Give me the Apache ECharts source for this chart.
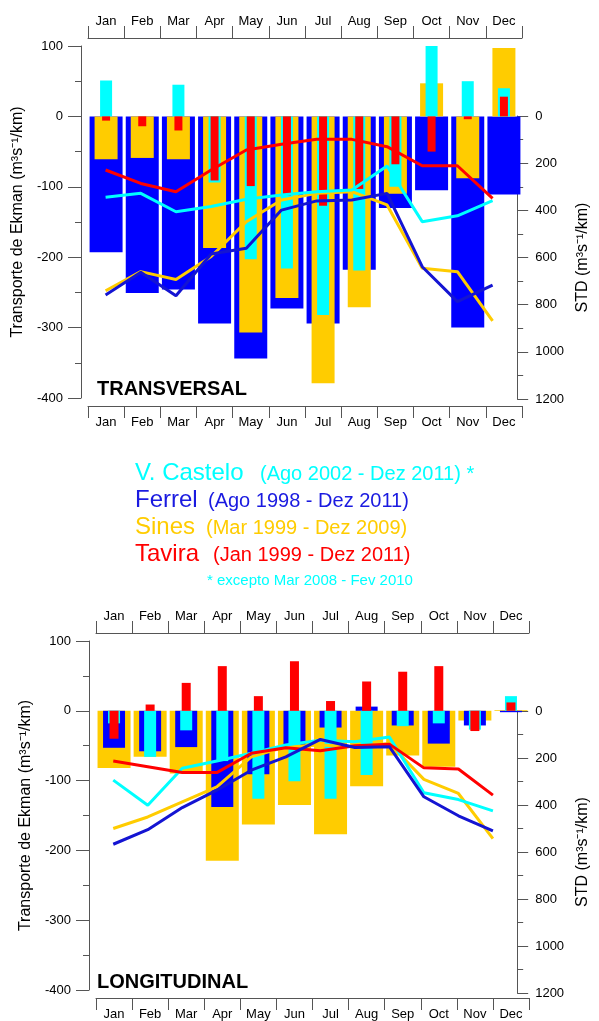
<!DOCTYPE html>
<html>
<head>
<meta charset="utf-8">
<script src="https://cdn.jsdelivr.net/npm/echarts@6/dist/echarts.min.js"></script>
<style>
html, body { margin: 0; padding: 0; background: #fff; }
#chart { width: 599px; height: 1021px; }
</style>
</head>
<body>
<div id="chart"></div>
<script>
const months = ['Jan', 'Feb', 'Mar', 'Apr', 'May', 'Jun', 'Jul', 'Aug', 'Sep', 'Oct', 'Nov', 'Dec']

// TRANSVERSAL - monthly mean transport (m3 s-1 / km)
const trFerrel = [-193, -251, -246, -294, -344, -273, -294, -218, -130, -105, -300, -111]
const trSines = [-61, -59, -61, -187, -307, -258, -379, -271, -110, 47, -88, 97]
const trCastelo = [51, 0, 45, -94, -203, -216, -282, -219, -100, 100, 50, 40]
const trTavira = [-6, -14, -20, -91, -99, -113, -127, -103, -68, -50, -4, 28]
// TRANSVERSAL - STD
const trStdFerrel = [759, 663, 762, 585, 561, 399, 360, 356, 328, 639, 787, 717]
const trStdSines = [741, 660, 693, 596, 448, 356, 328, 321, 377, 646, 660, 869]
const trStdCastelo = [345, 328, 406, 384, 353, 335, 321, 314, 212, 448, 423, 359]
const trStdTavira = [229, 286, 321, 229, 144, 120, 99, 99, 130, 211, 211, 349]

// LONGITUDINAL - monthly mean transport
const loFerrel = [-53, -58, -52, -138, -91, -50, -24, 6, -21, -47, -21, -2]
const loSines = [-82, -66, -90, -215, -163, -135, -177, -108, -64, -80, -14, 1]
const loCastelo = [-18, -66, -28, -72, -126, -101, -126, -92, -22, -18, -27, 21]
const loTavira = [-40, 9, 40, 64, 21, 71, 14, 42, 56, 64, -29, 12]
// LONGITUDINAL - STD
const loStdFerrel = [567, 505, 411, 337, 252, 195, 121, 155, 152, 365, 446, 510]
const loStdSines = [500, 451, 387, 323, 195, 152, 145, 152, 138, 291, 351, 543]
const loStdCastelo = [294, 401, 244, 213, 180, 145, 124, 131, 111, 348, 377, 425]
const loStdTavira = [213, 237, 262, 262, 180, 156, 169, 148, 141, 242, 247, 358]

const transportTicks = { min: -400, max: 100, interval: 100 }
const stdTicks = { min: 0, max: 1200, interval: 200 }

const FONT = '"Liberation Sans", Arial, sans-serif'
const BLUE = '#0000ff', YELLOW = '#ffcc00', CYAN = '#00ffff', RED = '#ff0000'
const BLUE_LINE = '#1414d2'
const AXIS = '#555'

const grids = [], xAxes = [], yAxes = [], series = []

// one panel = bar grid (left axis) + std grid (right axis, starts at the zero line)
function addPanel(geo, bars, lines) {
    const g0 = grids.length
    grids.push({ left: geo.left, right: geo.right, top: geo.top, height: geo.height })
    grids.push({ left: geo.left, right: geo.right, top: geo.stdTop, height: geo.stdHeight })

    const y0 = yAxes.length
    yAxes.push({
        type: 'value', gridIndex: g0, position: 'left', offset: 7,
        min: transportTicks.min, max: transportTicks.max, interval: transportTicks.interval,
        axisLine: { show: true, onZero: false, lineStyle: { color: AXIS } },
        axisTick: { show: true, length: 13, lineStyle: { color: AXIS } },
        minorTick: { show: true, splitNumber: 2, length: 6, lineStyle: { color: AXIS } },
        splitLine: { show: false },
        axisLabel: { color: '#000', fontSize: 13, fontFamily: FONT, margin: 18, formatter: v => String(v) },
        name: 'Transporte de Ekman (m³s⁻¹/km)', nameLocation: 'middle', nameGap: 52, nameRotate: 90,
        nameTextStyle: { color: '#000', fontSize: 16, fontFamily: FONT },
    })
    yAxes.push({
        type: 'value', gridIndex: g0 + 1, position: 'right', offset: 7, inverse: true,
        min: stdTicks.min, max: stdTicks.max, interval: stdTicks.interval,
        axisLine: { show: true, onZero: false, lineStyle: { color: AXIS } },
        axisTick: { show: true, length: 11, lineStyle: { color: AXIS } },
        minorTick: { show: true, splitNumber: 2, length: 6, lineStyle: { color: AXIS } },
        splitLine: { show: false },
        axisLabel: { color: '#000', fontSize: 13, fontFamily: FONT, margin: 18, formatter: v => String(v) },
        name: 'STD (m³s⁻¹/km)', nameLocation: 'middle', nameGap: 52, nameRotate: 90,
        nameTextStyle: { color: '#000', fontSize: 16, fontFamily: FONT },
    })

    const monthAxis = (pos) => ({
        type: 'category', gridIndex: g0, data: months, position: pos, offset: 8,
        axisLine: { show: true, onZero: false, lineStyle: { color: AXIS } },
        axisTick: { show: true, length: 12, lineStyle: { color: AXIS } },
        axisLabel: { color: '#000', fontSize: 13, fontFamily: FONT, margin: 10 },
        splitLine: { show: false },
    })

    // every bar series gets its own category axis so the bars stay centred and overlap
    bars.forEach((b, i) => {
        const xi = xAxes.length
        if (i === 0) xAxes.push(monthAxis('top'))
        else if (i === 1) xAxes.push(monthAxis('bottom'))
        else xAxes.push({ type: 'category', gridIndex: g0, data: months, show: false })
        series.push({
            type: 'bar', name: b.name, xAxisIndex: xi, yAxisIndex: y0,
            data: b.data, barWidth: b.width, itemStyle: { color: b.color }, z: 2,
        })
    })

    const xl = xAxes.length
    xAxes.push({ type: 'category', gridIndex: g0 + 1, data: months, show: false })
    lines.forEach(l => {
        series.push({
            type: 'line', name: l.name, xAxisIndex: xl, yAxisIndex: y0 + 1,
            data: l.data, symbol: 'none', lineStyle: { width: 3, color: l.color },
            itemStyle: { color: l.color }, z: 3,
        })
    })
}

addPanel(
    { left: 88, right: 77, top: 46, height: 352, stdTop: 116, stdHeight: 283 },
    [
        { name: 'Ferrel', data: trFerrel, color: BLUE, width: 33 },
        { name: 'Sines', data: trSines, color: YELLOW, width: 23 },
        { name: 'V. Castelo', data: trCastelo, color: CYAN, width: 12 },
        { name: 'Tavira', data: trTavira, color: RED, width: 8 },
    ],
    [
        { name: 'Sines', data: trStdSines, color: YELLOW },
        { name: 'V. Castelo', data: trStdCastelo, color: CYAN },
        { name: 'Tavira', data: trStdTavira, color: RED },
        { name: 'Ferrel', data: trStdFerrel, color: BLUE_LINE },
    ]
)

addPanel(
    { left: 96, right: 70, top: 641, height: 352, stdTop: 711, stdHeight: 282 },
    [
        { name: 'Sines', data: loSines, color: YELLOW, width: 33 },
        { name: 'Ferrel', data: loFerrel, color: BLUE, width: 22 },
        { name: 'V. Castelo', data: loCastelo, color: CYAN, width: 12 },
        { name: 'Tavira', data: loTavira, color: RED, width: 9 },
    ],
    [
        { name: 'Sines', data: loStdSines, color: YELLOW },
        { name: 'V. Castelo', data: loStdCastelo, color: CYAN },
        { name: 'Tavira', data: loStdTavira, color: RED },
        { name: 'Ferrel', data: loStdFerrel, color: BLUE_LINE },
    ]
)

const txt = (text, x, y, size, color, bold) => ({
    type: 'text', x: x, y: y, z: 10,
    style: {
        text: text, fill: color, verticalAlign: 'middle', align: 'left',
        font: (bold ? 'bold ' : '') + size + 'px ' + FONT,
    },
})

const graphic = [
    txt('TRANSVERSAL', 97, 389, 20, '#000', true),
    txt('LONGITUDINAL', 97, 982, 20, '#000', true),
    txt('V. Castelo', 135, 473, 24, CYAN),
    txt('(Ago 2002 - Dez 2011) *', 260, 474, 20, CYAN),
    txt('Ferrel', 135, 500, 24, '#1a1ae0'),
    txt('(Ago 1998 - Dez 2011)', 208, 501, 20, '#1a1ae0'),
    txt('Sines', 135, 527, 24, YELLOW),
    txt('(Mar 1999 - Dez 2009)', 206, 528, 20, YELLOW),
    txt('Tavira', 135, 554, 24, RED),
    txt('(Jan 1999 - Dez 2011)', 213, 555, 20, RED),
    txt('* excepto Mar 2008 - Fev 2010', 207, 581, 15, CYAN),
]

const myChart = echarts.init(document.getElementById('chart'))
myChart.setOption({
    animation: false,
    backgroundColor: '#fff',
    grid: grids,
    xAxis: xAxes,
    yAxis: yAxes,
    series: series,
    graphic: graphic,
})
</script>
</body>
</html>
